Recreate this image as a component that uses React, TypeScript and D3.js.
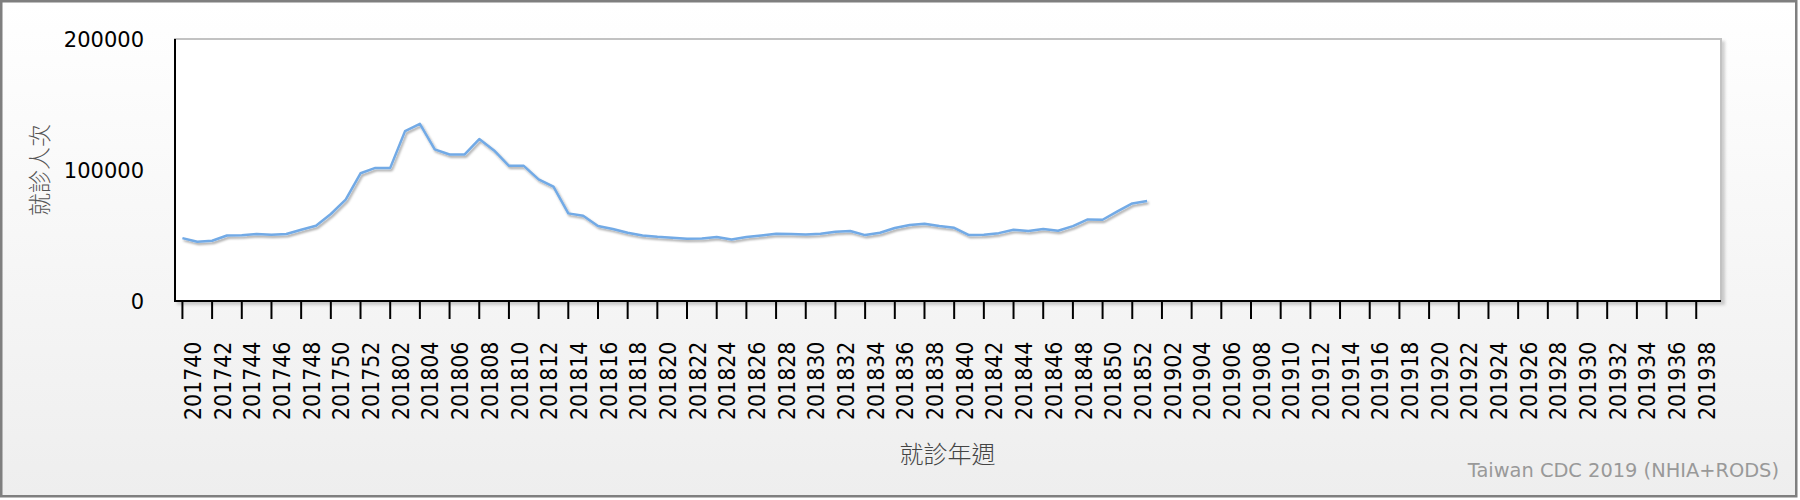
import React from "react";
import * as d3 from "d3";

const W = 1800;
const H = 500;

// category ranges (year, first week, last week)
const weekRanges: [number, number, number][] = [
  [2017, 40, 52],
  [2018, 1, 52],
  [2019, 1, 39],
];
const weeks: string[] = weekRanges.flatMap(([y, a, b]) =>
  d3.range(a, b + 1).map((w) => `${y}${String(w).padStart(2, "0")}`)
);

// weekly visits, 201740 .. 201901
const visits: number[] = [
  48000, 45200, 46000, 50000, 50200, 51100, 50600, 51100, 54400, 57400,
  66400, 77400, 97500, 101600, 101600, 129700, 135300, 115700, 111800, 111800,
  123600, 114900, 103200, 103200, 92900, 87300, 66900, 65100, 57200, 54900,
  52100, 50000, 49000, 48300, 47500, 47700, 48800, 47000, 48800, 50000,
  51300, 51100, 50800, 51300, 52900, 53400, 50300, 52100, 55700, 58000,
  59000, 57200, 55900, 50300, 50600, 51800, 54400, 53400, 54900, 53600,
  57200, 62300, 62000, 68400, 74500, 76400,
];

const yTicks: number[] = [0, 100000, 200000];
const yTitle = "就診人次";
const xTitle = "就診年週";
const credit = "Taiwan CDC 2019 (NHIA+RODS)";

export default function App() {
  const left = 175, right = 1721, top = 39, bottom = 301;
  const x = d3.scaleBand<string>().domain(weeks).range([175, 1718.5]);
  const cx = (w: string) => (x(w) as number) + x.bandwidth() / 2;
  const y = d3.scaleLinear().domain([0, 200000]).range([bottom, top]);
  const line = d3
    .line<number>()
    .x((_, i) => cx(weeks[i]))
    .y((d) => y(d));
  const tickWeeks = weeks.filter((_, i) => i % 2 === 0);

  return (
    <div style={{ position: "fixed", left: 0, top: 0, width: W, height: H }}>
      <svg width={W} height={H} style={{ display: "block" }}>
        <defs>
          <linearGradient id="bg" x1="0" y1="0" x2="0" y2="1">
            <stop offset="0" stopColor="#ffffff" />
            <stop offset="1" stopColor="#eeeeee" />
          </linearGradient>
          <filter id="boxShadow" x="-5%" y="-10%" width="110%" height="130%">
            <feDropShadow dx="3" dy="3" stdDeviation="1.5" floodColor="#000" floodOpacity="0.18" />
          </filter>
          <filter id="lineShadow" x="-5%" y="-20%" width="110%" height="140%">
            <feDropShadow dx="1.5" dy="2" stdDeviation="1.2" floodColor="#000" floodOpacity="0.35" />
          </filter>
        </defs>
        <rect x={0} y={0} width={W} height={H} fill="#ffffff" />
        <rect x={1.25} y={1.25} width={1795} height={495} fill="url(#bg)" stroke="#7f7f7f" strokeWidth={2.5} />

        {/* plot area */}
        <rect
          x={left}
          y={top}
          width={right - left}
          height={bottom - top}
          fill="#ffffff"
          stroke="#c2c2c2"
          strokeWidth={2}
          filter="url(#boxShadow)"
        />

        {/* line */}
        <path
          d={line(visits) || ""}
          fill="none"
          stroke="#72aae6"
          strokeWidth={2.5}
          strokeLinejoin="round"
          filter="url(#lineShadow)"
        />

        {/* axes */}
        <line x1={left} x2={left} y1={top} y2={bottom + 1} stroke="#000" strokeWidth={2} />
        <line x1={left} x2={right} y1={bottom} y2={bottom} stroke="#000" strokeWidth={2} />

        {/* x ticks */}
        {tickWeeks.map((w) => (
          <line key={"t" + w} x1={cx(w)} x2={cx(w)} y1={bottom} y2={319} stroke="#000" strokeWidth={2} />
        ))}
        {tickWeeks.map((w) => (
          <text
            key={"l" + w}
            transform={`translate(${cx(w) + 18.6},341.7) rotate(-90)`}
            textAnchor="end"
            fontFamily="'DejaVu Sans Condensed', 'DejaVu Sans', sans-serif"
            fontStretch="condensed"
            fontSize={22.8}
            fill="#000"
          >
            {w}
          </text>
        ))}

        {/* y labels */}
        {yTicks.map((t) => (
          <text
            key={"y" + t}
            x={144}
            y={y(t)}
            dy="0.36em"
            textAnchor="end"
            fontFamily="'DejaVu Sans', sans-serif"
            fontSize={21}
            fill="#000"
          >
            {t}
          </text>
        ))}

        {/* titles */}
        <text
          transform="translate(40,170) rotate(-90)"
          textAnchor="middle"
          dy="0.36em"
          fontFamily="'Noto Sans CJK TC', sans-serif"
          fontWeight={300}
          fontSize={23}
          fill="#555"
        >
          {yTitle}
        </text>
        <text
          x={947.5}
          y={454.5}
          dy="0.36em"
          textAnchor="middle"
          fontFamily="'Noto Sans CJK TC', sans-serif"
          fontWeight={300}
          fontSize={24}
          fill="#444"
        >
          {xTitle}
        </text>
        <text
          x={1779}
          y={476.5}
          textAnchor="end"
          fontFamily="'DejaVu Sans', sans-serif"
          fontSize={19.4}
          fill="#999"
        >
          {credit}
        </text>
      </svg>
    </div>
  );
}
